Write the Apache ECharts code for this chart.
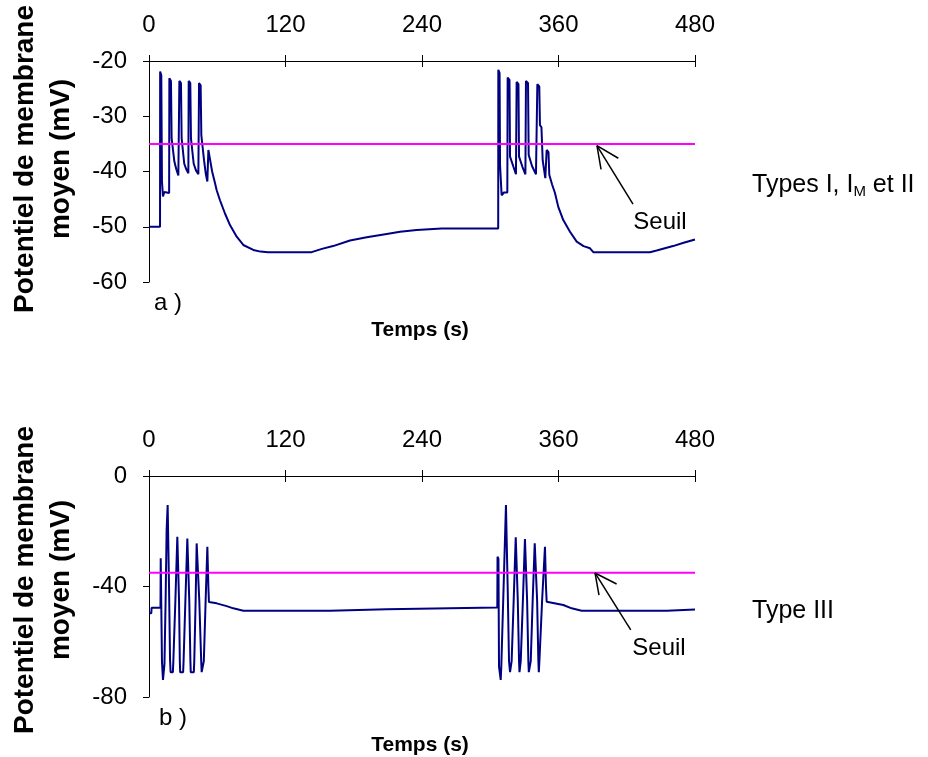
<!DOCTYPE html>
<html>
<head>
<meta charset="utf-8">
<script src="https://cdn.jsdelivr.net/npm/echarts@6/dist/echarts.min.js"></script>
<style>html,body{margin:0;padding:0;background:#fff}#c{width:928px;height:757px}</style>
</head>
<body>
<div id="c"></div>
<script>
// ---- Data ----
const xTicks = [0, 120, 240, 360, 480];
const threshold = -35;

// a) Types I, IM et II
const timesA = [0, 9.7, 9.8, 10.8, 11.4, 12.3, 13.5, 17.7,
  17.9, 19.3, 19.9, 21.4, 22.3, 24.0, 25.8,
  26.7, 28.1, 28.7, 30.2, 31.0, 32.8, 34.6,
  34.9, 36.3, 36.9, 38.4, 39.3, 41.3, 43.4,
  44.0, 45.4, 46.0, 47.2, 48.4, 50.0, 51.3,
  52.2, 53.7, 55.5, 58.0, 59.5, 62.4, 66.8, 71.2, 77.1, 82.9, 91.7, 98.0, 104.6, 143.0,
  152.0, 161.8, 176.7, 191.4, 209.0, 220.7, 235.3, 257.3, 307.0,
  307.1, 308.2, 308.6, 310.0, 312.0, 315.0,
  315.3, 316.9, 317.4, 320.3, 322.6,
  323.2, 324.8, 325.3, 328.2, 330.9,
  331.4, 333.2, 333.8, 336.7, 340.2,
  341.4, 343.1, 343.7, 345.0, 346.1, 348.4,
  349.6, 351.2, 351.9, 354.3, 356.9, 359.8, 364.2, 370.1, 376.0, 382.0, 387.7, 390.6, 440.4,
  446.3, 460.7, 470.0, 480.0];
const voltA = [-50, -50, -21.9, -22.6, -41.8, -44.5, -43.7, -43.9,
  -23.1, -23.6, -34.0, -34.3, -38.2, -39.6, -40.7,
  -23.6, -24.0, -34.0, -34.3, -38.6, -39.6, -40.3,
  -23.6, -24.0, -34.0, -34.3, -38.6, -39.8, -40.5,
  -24.0, -24.4, -33.4, -33.7, -38.0, -40.5, -41.8,
  -36.1, -36.4, -40.0, -42.1, -43.4, -45.2, -47.6, -49.7, -51.8, -53.3, -54.2, -54.5, -54.6, -54.6,
  -54.0, -53.5, -52.5, -51.9, -51.3, -50.9, -50.6, -50.3, -50.3,
  -21.6, -22.2, -38.8, -44.3, -43.8, -43.8,
  -23.0, -23.4, -37.3, -39.1, -40.5,
  -23.8, -24.2, -37.3, -39.1, -40.5,
  -23.6, -24.0, -37.0, -39.0, -40.5,
  -24.2, -24.6, -31.6, -32.0, -38.0, -41.2,
  -36.1, -36.5, -40.6, -42.3, -43.9, -46.4, -48.8, -50.9, -52.7, -53.5, -53.9, -54.6, -54.6,
  -54.3, -53.5, -52.9, -52.3];

// b) Type III
const timesB = [0, 2.0, 2.3, 10.1,
  10.3, 11.0, 11.4, 12.3, 13.2,
  13.6, 14.6, 15.5, 16.4, 17.0, 17.6, 18.5, 19.0, 21.0,
  21.4, 23.2, 24.9, 25.6, 26.4, 27.1, 27.4, 30.0,
  30.4, 32.0, 33.7, 34.4, 35.4, 36.4, 36.7, 39.4,
  39.8, 41.0, 41.9, 42.7, 44.2, 45.9, 46.3, 47.8,
  48.2, 49.8, 51.3, 51.9, 52.2, 52.7, 59.5, 68.3, 74.1, 82.9, 159.1,
  159.3, 209.0, 209.2, 306.2,
  306.4, 307.2, 307.7, 309.2,
  309.7, 312.1, 313.8, 314.4, 315.3, 316.5, 317.4,
  318.8, 320.6, 322.4, 323.2, 324.2, 325.3, 325.7,
  326.8, 328.7, 330.5, 331.4, 332.4, 333.5, 333.9,
  335.6, 337.3, 339.1, 340.2, 341.2, 342.3, 342.7,
  343.2, 345.6, 348.1, 348.6, 349.0, 349.6, 364.2, 371.6, 380.4, 455.1,
  455.3, 480.0];
const voltB = [-49.7, -49.7, -47.7, -47.7,
  -29.8, -30.5, -67.2, -73.8, -73.5,
  -68.0, -45.0, -19.5, -10.5, -11.0, -40.0, -66.5, -71.0, -71.0,
  -67.0, -45.0, -22.0, -22.5, -45.0, -67.0, -71.0, -71.0,
  -67.0, -45.0, -22.6, -23.0, -45.0, -67.0, -71.0, -71.0,
  -67.0, -45.0, -24.4, -24.8, -45.0, -67.0, -71.0, -71.0,
  -67.0, -45.0, -25.6, -26.0, -40.2, -45.6, -46.1, -47.1, -47.9, -48.8, -48.8,
  -48.2, -48.2, -47.6, -47.6,
  -29.2, -30.0, -69.0, -73.8,
  -69.0, -35.0, -10.5, -11.0, -40.0, -67.0, -71.0,
  -67.0, -45.0, -22.2, -22.6, -45.0, -67.0, -71.0,
  -67.0, -45.0, -22.8, -23.2, -45.0, -67.0, -71.0,
  -67.0, -45.0, -24.4, -24.8, -45.0, -67.0, -71.0,
  -67.0, -45.0, -25.6, -26.0, -40.0, -45.5, -46.7, -47.9, -48.8, -48.8,
  -48.3, -48.3];

// arrow annotations pointing at the threshold ("Seuil"): tail, tip, head1, head2
const arrowA = [[425.5, -45.9], [393.8, -35.3], [412.6, -37.6], [397.4, -39.6]];
const arrowB = [[423.5, -55.7], [392.1, -35.1], [411.1, -39.1], [395.6, -43.1]];

// ---- Chart ----
const FONT = 'Liberation Sans, Arial, Helvetica, sans-serif';
const chart = echarts.init(document.getElementById('c'), null, {renderer: 'canvas'});

function zip(t, v) { return t.map((x, i) => [x, v[i]]); }
function arrowLines(a) {
  return [
    [{coord: a[0]}, {coord: a[1]}],
    [{coord: a[1]}, {coord: a[2]}],
    [{coord: a[1]}, {coord: a[3]}]
  ];
}
function xAx(grid, withLabels) {
  return {
    type: 'value', gridIndex: grid, position: 'top',
    min: xTicks[0], max: xTicks[xTicks.length - 1], interval: xTicks[1] - xTicks[0],
    axisLine: {show: withLabels, onZero: false, lineStyle: {color: '#000', width: 1}},
    axisTick: {show: true, inside: !withLabels, length: 6, lineStyle: {color: '#000', width: 1}},
    axisLabel: {show: withLabels, fontSize: 24, color: '#000', fontFamily: FONT, margin: 24},
    splitLine: {show: false}
  };
}
function yAx(grid, min, max, interval) {
  return {
    type: 'value', gridIndex: grid, min: min, max: max, interval: interval,
    axisLine: {show: true, onZero: false, lineStyle: {color: '#000', width: 1}},
    axisTick: {show: true, length: 6, lineStyle: {color: '#000', width: 1}},
    axisLabel: {fontSize: 24, color: '#000', fontFamily: FONT, margin: 22},
    splitLine: {show: false}
  };
}
const traceStyle = {color: '#000080', width: 2};
const thrStyle = {color: '#ff00ff', width: 2};
const arrowMark = (a) => ({
  silent: true, symbol: ['none', 'none'], animation: false,
  lineStyle: {color: '#000', width: 1.5, type: 'solid'},
  label: {show: false}, emphasis: {disabled: true},
  data: arrowLines(a)
});

const option = {
  animation: false,
  backgroundColor: '#fff',
  grid: [
    {left: 149, top: 61, width: 546, height: 221, outerBoundsMode: 'none'},
    {left: 149, top: 476, width: 546, height: 221, outerBoundsMode: 'none'}
  ],
  xAxis: [xAx(0, true), xAx(0, false), xAx(1, true), xAx(1, false)],
  yAxis: [yAx(0, -60, -20, 10), yAx(1, -80, 0, 40)],
  series: [
    {type: 'line', xAxisIndex: 0, yAxisIndex: 0, data: zip(timesA, voltA), showSymbol: false,
     lineStyle: traceStyle, itemStyle: {color: '#000080'}, silent: true},
    {type: 'line', xAxisIndex: 0, yAxisIndex: 0, data: [[xTicks[0], threshold], [xTicks[4], threshold]],
     showSymbol: false, lineStyle: thrStyle, itemStyle: {color: '#ff00ff'}, silent: true,
     markLine: arrowMark(arrowA)},
    {type: 'line', xAxisIndex: 2, yAxisIndex: 1, data: zip(timesB, voltB), showSymbol: false,
     lineStyle: traceStyle, itemStyle: {color: '#000080'}, silent: true},
    {type: 'line', xAxisIndex: 2, yAxisIndex: 1, data: [[xTicks[0], threshold], [xTicks[4], threshold]],
     showSymbol: false, lineStyle: thrStyle, itemStyle: {color: '#ff00ff'}, silent: true,
     markLine: arrowMark(arrowB)}
  ],
  graphic: [
    {type: 'text', x: 43, y: 159, rotation: Math.PI / 2, silent: true,
     style: {text: 'Potentiel de membrane\nmoyen (mV)', font: 'bold 28px ' + FONT, lineHeight: 36,
       align: 'center', verticalAlign: 'middle', fill: '#000'}},
    {type: 'text', x: 43, y: 580, rotation: Math.PI / 2, silent: true,
     style: {text: 'Potentiel de membrane\nmoyen (mV)', font: 'bold 28px ' + FONT, lineHeight: 36,
       align: 'center', verticalAlign: 'middle', fill: '#000'}},
    {type: 'text', x: 420, y: 330, silent: true,
     style: {text: 'Temps (s)', font: 'bold 21px ' + FONT, align: 'center', verticalAlign: 'middle', fill: '#000'}},
    {type: 'text', x: 420, y: 745, silent: true,
     style: {text: 'Temps (s)', font: 'bold 21px ' + FONT, align: 'center', verticalAlign: 'middle', fill: '#000'}},
    {type: 'text', x: 154, y: 303, silent: true,
     style: {text: 'a )', font: '24px ' + FONT, align: 'left', verticalAlign: 'middle', fill: '#000'}},
    {type: 'text', x: 159, y: 718, silent: true,
     style: {text: 'b )', font: '24px ' + FONT, align: 'left', verticalAlign: 'middle', fill: '#000'}},
    {type: 'text', x: 752, y: 185, silent: true,
     style: {text: '{n|Types I, I}{s|M}{n| et II}', align: 'left', verticalAlign: 'middle', fill: '#000',
       rich: {
         n: {fontSize: 25, fontFamily: FONT, lineHeight: 28, fill: '#000'},
         s: {fontSize: 15, fontFamily: FONT, lineHeight: 14, verticalAlign: 'bottom', fill: '#000'}
       }}},
    {type: 'text', x: 752, y: 611, silent: true,
     style: {text: 'Type III', font: '25px ' + FONT, align: 'left', verticalAlign: 'middle', fill: '#000'}},
    {type: 'text', x: 660, y: 222, silent: true,
     style: {text: 'Seuil', font: '24px ' + FONT, align: 'center', verticalAlign: 'middle', fill: '#000'}},
    {type: 'text', x: 659, y: 648, silent: true,
     style: {text: 'Seuil', font: '24px ' + FONT, align: 'center', verticalAlign: 'middle', fill: '#000'}}
  ]
};
chart.setOption(option);
</script>
</body>
</html>
